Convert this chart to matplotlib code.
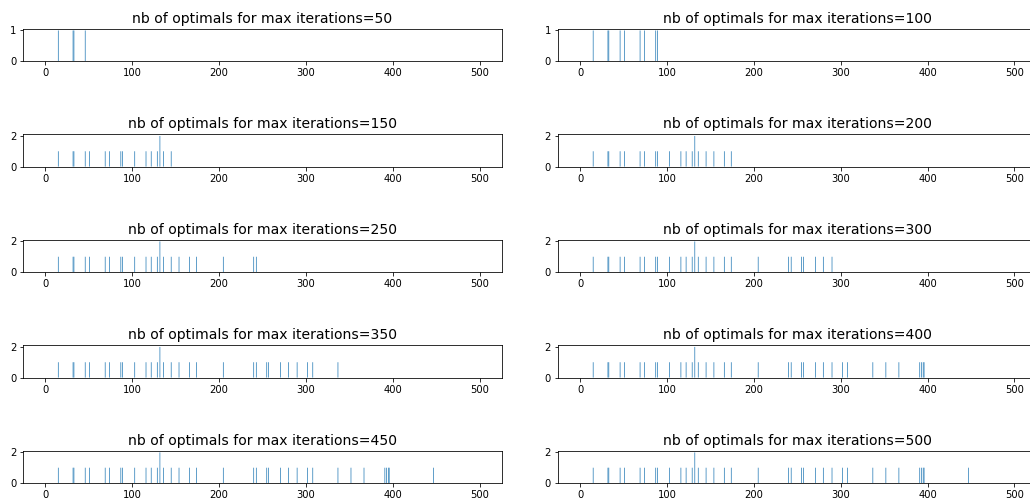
#!/usr/bin/env python
# coding: utf-8

import numpy as np
import matplotlib
matplotlib.use('Agg')
import matplotlib.pyplot as plt

#===== DATA =======================================#
#-- iterations at which the optimal was reached, and how many times
optimal_iters = [15, 32, 33, 46, 51, 69, 74, 87, 89, 103, 116, 122, 129, 132,
                 136, 145, 154, 166, 174, 205, 240, 243, 255, 257, 271, 280,
                 290, 302, 308, 337, 352, 367, 391, 393, 395, 396, 447]
optimal_counts = [1, 1, 1, 1, 1, 1, 1, 1, 1, 1, 1, 1, 1, 2,
                  1, 1, 1, 1, 1, 1, 1, 1, 1, 1, 1, 1,
                  1, 1, 1, 1, 1, 1, 1, 1, 1, 1, 1]
max_iterations = [50, 100, 150, 200, 250, 300, 350, 400, 450, 500]
n_bins = 501

#===== PLOTS ======================================#
dpi = 72
fig, axes = plt.subplots(5, 2, figsize=(1030 / dpi, 499 / dpi), dpi=dpi)
fig.subplots_adjust(left=0.0225, right=1.0063, top=0.942, bottom=0.032,
                    wspace=0.118, hspace=2.28)

x = np.arange(n_bins)
for ax, max_it in zip(axes.flat, max_iterations):
    counts = np.zeros(n_bins)
    for it, c in zip(optimal_iters, optimal_counts):
        if it <= max_it:
            counts[it] = c
    bars = ax.bar(x, counts)
    for b in bars:
        b.set_snap(False)
    ax.set_title(f"nb of optimals for max iterations={max_it}", fontsize=14)

fig.savefig('out.png', dpi=dpi)
